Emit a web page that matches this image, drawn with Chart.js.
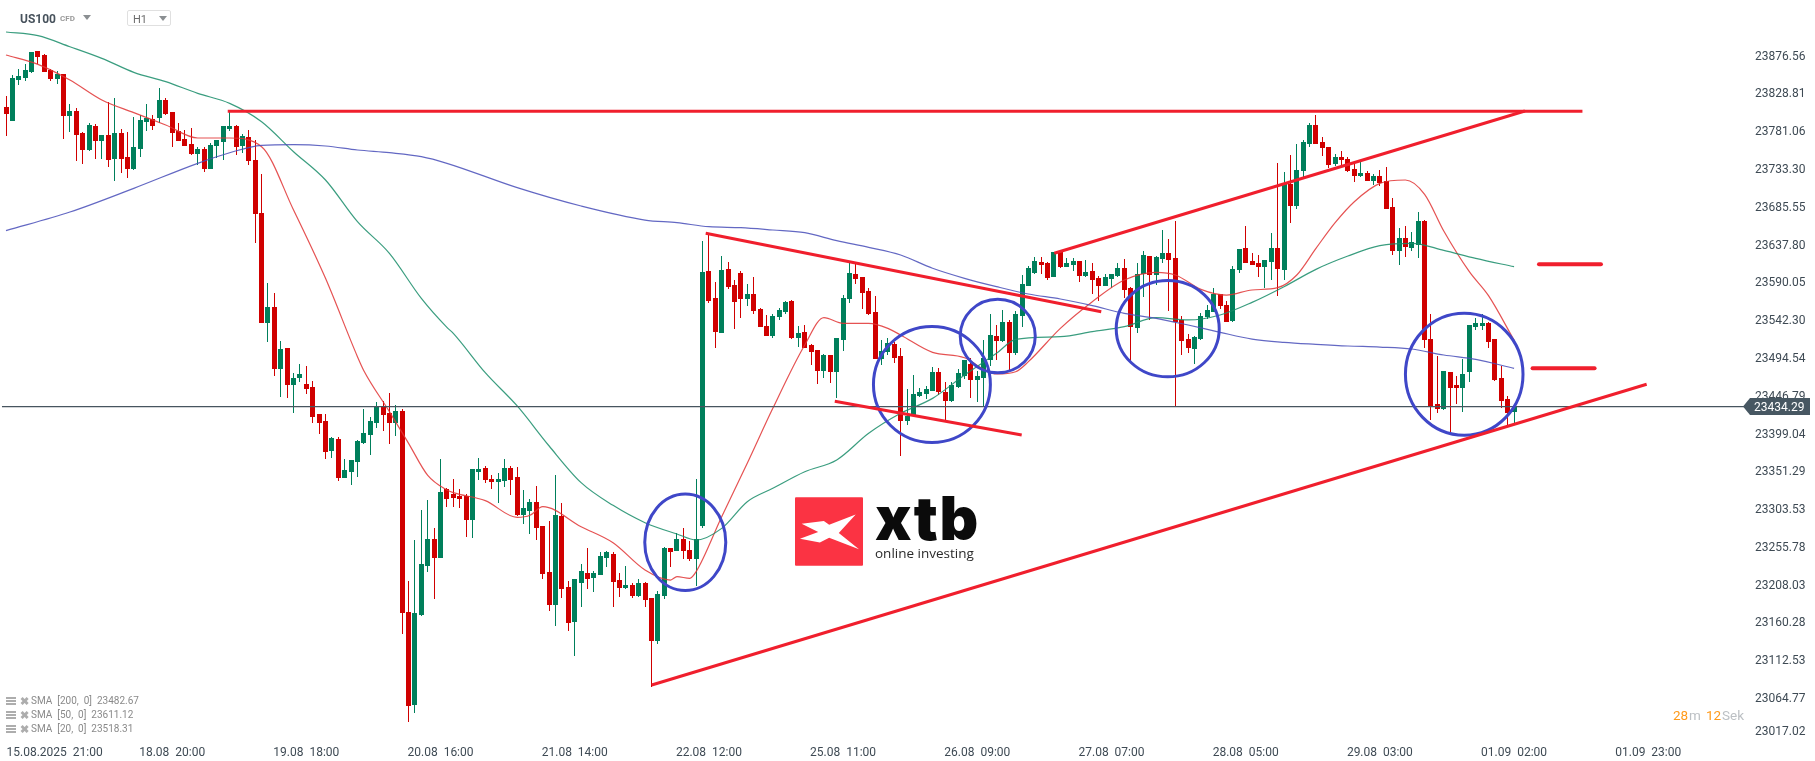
<!DOCTYPE html>
<html>
<head>
<meta charset="utf-8">
<title>US100 H1</title>
<script src="https://cdn.jsdelivr.net/npm/chart.js@4/dist/chart.umd.min.js"></script>
<style>
    html, body { margin: 0; padding: 0; background: #fff; }
    #wrap { position: relative; width: 1815px; height: 761px; overflow: hidden; font-family: Roboto, sans-serif; }
    #wrap div, #wrap span { position: absolute; white-space: pre; line-height: 1; }
    canvas { position: absolute; left: 0; top: 0; }
    .tri { width: 0; height: 0; border-left: 4px solid transparent; border-right: 4px solid transparent; border-top: 5px solid #8b8f92; }
    .sma { left: 31px; font-size: 10px; color: #8a8a8a; }
    .ico { left: 6px; width: 10px; height: 8px; background: repeating-linear-gradient(#adadad 0 2px, #fff 2px 3px); }
    .cross { left: 20px; font-size: 11px; font-weight: 700; color: #adadad; }
</style>
</head>
<body>
<div id="wrap">
    <canvas id="chart" width="1815" height="761"></canvas>

    <div style="left:20px;top:13px;font-size:12px;font-weight:700;color:#47525c">US100</div>
    <div style="left:60px;top:15px;font-size:8px;font-weight:700;color:#9a9a9a">CFD</div>
    <div class="tri" style="left:83px;top:15px"></div>
    <div style="left:127px;top:10px;width:42px;height:14px;border:1px solid #e0e0e0;border-radius:2px"></div>
    <div style="left:133px;top:14px;font-size:11px;color:#6d6d6d">H1</div>
    <div class="tri" style="left:159px;top:16px"></div>

    <div class="ico" style="top:697px"></div><div class="cross" style="top:696px">✖</div>
    <div class="sma" style="top:696px">SMA  [200,  0]  23482.67</div>
    <div class="ico" style="top:711px"></div><div class="cross" style="top:710px">✖</div>
    <div class="sma" style="top:710px">SMA  [50,  0]  23611.12</div>
    <div class="ico" style="top:725px"></div><div class="cross" style="top:724px">✖</div>
    <div class="sma" style="top:724px">SMA  [20,  0]  23518.31</div>

    <svg style="position:absolute;left:795px;top:497px" width="68" height="69" viewBox="75 50 205 207">
        <rect x="75" y="50" width="205" height="207" rx="3" fill="#fb3343"/>
        <polygon fill="#fff" points="95,130 162,122 178,133 258,102 207,158 268,207 178,172 150,187 90,175 145,155"/>
    </svg>
    <div style="left:875px;top:488px;font-family:Inter,sans-serif;font-size:60px;font-weight:900;color:#0b0b0b;letter-spacing:1.5px">xtb</div>
    <div style="left:875px;top:547px;font-family:'Open Sans',sans-serif;font-size:13.5px;color:#2a2a2a">online investing</div>

    <span style="left:1673px;top:709px;font-size:13.5px;color:#ff9a1a">28</span>
    <span style="left:1689px;top:709px;font-size:13.5px;color:#bcc0c4">m</span>
    <span style="left:1706px;top:709px;font-size:13.5px;color:#ff9a1a">12</span>
    <span style="left:1722px;top:709px;font-size:13.5px;color:#bcc0c4">Sek</span>

    <div style="left:1743px;top:398px;width:67px;height:17px;background:#475762;clip-path:polygon(0 50%,7px 0,100% 0,100% 100%,7px 100%)"></div>
    <div style="left:1754px;top:401px;font-size:12px;color:#fff">23434.29</div>
</div>

<script>
// Candles, one per hour
const candleOpen = [
    23813,23795,23847,23850,23857,23884,23879,23860,23848,23855,
    23802,23808,23780,23759,23789,23770,23778,23747,23780,23750,
    23735,23760,23794,23798,23799,23822,23807,23783,23772,23766,
    23754,23760,23735,23764,23769,23785,23789,23764,23775,23746,
    23679,23540,23560,23482,23508,23462,23470,23463,23459,23425,
    23416,23378,23393,23344,23352,23364,23388,23398,23414,23435,
    23426,23414,23429,23175,23057,23171,23233,23267,23243,23330,
    23324,23321,23321,23291,23352,23357,23343,23339,23340,23357,
    23345,23297,23302,23314,23283,23225,23184,23296,23206,23162,
    23211,23224,23218,23221,23243,23248,23215,23205,23209,23195,
    23211,23192,23138,23195,23256,23252,23267,23253,23242,23283,
    23606,23572,23527,23608,23588,23603,23570,23577,23558,23536,
    23523,23548,23554,23568,23521,23529,23512,23506,23479,23500,
    23478,23518,23570,23602,23598,23580,23554,23494,23503,23513,
    23498,23416,23424,23448,23450,23454,23478,23453,23441,23459,
    23473,23488,23468,23470,23493,23523,23517,23541,23502,23549,
    23587,23603,23617,23616,23598,23630,23611,23613,23618,23599,
    23606,23597,23587,23596,23599,23609,23584,23534,23602,23625,
    23601,23621,23628,23622,23544,23520,23507,23520,23548,23554,
    23577,23563,23542,23607,23635,23618,23616,23611,23617,23635,
    23607,23716,23688,23732,23766,23790,23769,23762,23741,23750,
    23747,23735,23726,23730,23719,23726,23719,23687,23631,23647,
    23635,23639,23669,23520,23438,23431,23478,23462,23458,23478,
    23535,23536,23540,23520,23470,23444,23427
];
const candleClose = [
    23804,23850,23852,23860,23882,23876,23857,23848,23855,23802,
    23808,23778,23759,23790,23770,23778,23746,23780,23747,23735,
    23762,23796,23799,23789,23822,23804,23780,23770,23764,23754,
    23760,23735,23765,23771,23789,23789,23762,23776,23745,23678,
    23540,23560,23482,23507,23461,23471,23475,23457,23421,23414,
    23377,23395,23344,23354,23367,23391,23401,23416,23435,23424,
    23414,23429,23173,23056,23173,23235,23267,23243,23326,23318,
    23319,23318,23291,23355,23355,23342,23339,23343,23357,23342,
    23297,23306,23314,23281,23223,23184,23297,23204,23161,23216,
    23226,23216,23224,23245,23251,23213,23205,23209,23195,23211,
    23190,23138,23197,23256,23251,23267,23252,23242,23267,23604,
    23568,23529,23607,23585,23566,23570,23577,23555,23535,23523,
    23549,23556,23566,23521,23527,23508,23503,23479,23500,23478,
    23521,23572,23603,23596,23578,23551,23494,23505,23515,23496,
    23416,23422,23450,23453,23457,23478,23453,23441,23462,23477,
    23493,23468,23473,23496,23525,23517,23541,23502,23551,23589,
    23609,23618,23613,23597,23630,23611,23616,23618,23599,23604,
    23594,23587,23598,23602,23609,23582,23535,23602,23626,23601,
    23623,23628,23620,23541,23517,23508,23522,23549,23556,23577,
    23561,23541,23608,23633,23616,23613,23611,23620,23635,23608,
    23716,23688,23733,23769,23790,23766,23761,23740,23750,23746,
    23732,23726,23730,23719,23726,23717,23684,23631,23647,23636,
    23642,23669,23518,23435,23431,23479,23458,23458,23475,23537,
    23540,23540,23516,23468,23441,23426,23434.29
];
const candleHigh = [
    23827,23853,23861,23867,23882,23884,23880,23861,23859,23855,
    23817,23812,23781,23793,23791,23778,23819,23824,23785,23781,
    23800,23803,23817,23803,23837,23824,23807,23793,23784,23786,
    23762,23762,23767,23771,23789,23807,23790,23779,23784,23771,
    23728,23590,23578,23517,23508,23477,23488,23486,23467,23425,
    23425,23396,23396,23368,23367,23392,23431,23421,23440,23441,
    23451,23436,23431,23214,23266,23304,23316,23281,23368,23331,
    23343,23330,23324,23355,23369,23359,23348,23350,23368,23359,
    23358,23329,23318,23334,23283,23290,23348,23312,23214,23216,
    23235,23256,23226,23251,23252,23251,23224,23233,23211,23216,
    23213,23192,23201,23257,23256,23274,23281,23264,23343,23644,
    23652,23592,23625,23617,23594,23606,23589,23598,23559,23550,
    23551,23559,23568,23569,23536,23537,23513,23506,23501,23500,
    23521,23575,23616,23615,23598,23584,23574,23518,23521,23516,
    23508,23457,23474,23458,23460,23484,23483,23465,23465,23482,
    23493,23496,23479,23518,23551,23537,23556,23544,23555,23601,
    23612,23623,23623,23617,23630,23630,23622,23622,23618,23620,
    23616,23599,23602,23602,23616,23621,23585,23616,23631,23625,
    23625,23657,23646,23669,23549,23526,23523,23553,23563,23584,
    23577,23568,23612,23633,23663,23628,23626,23620,23654,23742,
    23731,23752,23766,23771,23793,23803,23775,23762,23754,23757,
    23750,23745,23743,23732,23728,23733,23737,23698,23660,23663,
    23655,23680,23670,23551,23498,23479,23478,23473,23494,23537,
    23546,23551,23541,23520,23486,23448,23436
];
const candleLow = [
    23776,23795,23841,23846,23856,23867,23857,23846,23842,23772,
    23781,23745,23741,23757,23747,23747,23737,23719,23730,23723,
    23733,23750,23783,23784,23793,23803,23762,23770,23764,23752,
    23740,23731,23735,23748,23746,23783,23752,23755,23740,23641,
    23540,23516,23473,23447,23445,23426,23465,23450,23414,23400,
    23368,23369,23340,23344,23335,23345,23387,23373,23407,23403,
    23387,23397,23147,23036,23047,23170,23225,23191,23243,23307,
    23307,23306,23269,23268,23342,23338,23330,23312,23333,23323,
    23296,23286,23273,23266,23216,23176,23157,23192,23151,23119,
    23181,23204,23200,23221,23232,23181,23194,23204,23192,23194,
    23181,23080,23134,23191,23232,23252,23242,23239,23208,23281,
    23565,23508,23527,23583,23532,23546,23561,23551,23535,23523,
    23521,23544,23551,23520,23510,23508,23487,23463,23470,23464,
    23445,23505,23565,23589,23558,23550,23494,23487,23500,23489,
    23372,23411,23424,23446,23444,23454,23449,23417,23440,23458,
    23469,23445,23440,23434,23486,23493,23516,23481,23500,23535,
    23587,23602,23602,23594,23598,23609,23611,23606,23592,23598,
    23577,23568,23587,23584,23598,23572,23491,23527,23573,23544,
    23588,23616,23555,23435,23500,23502,23488,23518,23545,23554,
    23558,23541,23541,23603,23616,23613,23598,23584,23594,23574,
    23594,23666,23684,23724,23762,23766,23751,23736,23738,23740,
    23731,23718,23724,23719,23714,23713,23684,23626,23613,23623,
    23631,23622,23508,23417,23426,23430,23402,23438,23427,23465,
    23531,23531,23508,23467,23432,23410,23414
];

// Moving averages, read at the candle numbers below
const sma200Index = [0,10,20,30,35,40,45,50,55,60,65,69,80,90,100,105,110,115,120,125,130,135,140,145,150,155,160,165,170,175,180,185,190,195,200,205,210,215,220,225,230,236];
const sma200Values = [23656.7,23680.2,23710.2,23741.8,23755.2,23764.5,23765.4,23763.7,23758.6,23755.2,23750.2,23741.8,23711,23687.8,23670.1,23666.8,23661.7,23660.5,23657.5,23654.1,23644,23635.6,23625.9,23609.1,23596.4,23585.9,23576.6,23570.3,23561.9,23552.2,23545.9,23537.4,23528.2,23519.7,23515.5,23513,23510.9,23509.6,23507.1,23499.5,23494,23482.67];
const sma50Index = [0,5,10,15,20,25,30,35,40,45,50,55,60,65,69,70,75,80,85,90,95,100,105,108,112,116,120,125,130,135,140,145,150,155,158,165,170,175,180,185,190,195,200,205,210,215,220,225,230,236];
const sma50Values = [23907.8,23903.1,23889.2,23874.5,23856.8,23845,23830.2,23817.6,23794.4,23756.5,23720.7,23668,23628,23571.1,23534.5,23526.9,23477.2,23435.1,23384.5,23338.2,23309.5,23287.6,23273.3,23265.7,23280.4,23314.1,23331,23352,23366.8,23400.5,23425.8,23444.7,23474.2,23501.6,23519.3,23522.7,23529,23535.3,23546.7,23543.8,23550.1,23566.1,23585.9,23607.8,23624.6,23637.7,23640.7,23631.8,23621.7,23611.12];
const sma20Index = [0,5,10,15,20,25,30,35,40,45,50,55,56,60,63,66,69,70,75,80,82,84,90,95,100,104,105,107,108,112,116,120,125,128,131,135,138,140,145,150,153,155,158,160,165,170,175,180,183,187,191,195,199,202,205,208,211,215,219,222,225,229,232,236];
const sma20Values = [23878.7,23866.9,23847.1,23821.8,23805.8,23790.2,23773.8,23773.8,23762.8,23682.8,23596.4,23497.4,23479.7,23427.9,23387.9,23347.4,23328.9,23325.5,23315.4,23294.3,23296.9,23307.8,23282.5,23262.3,23227.8,23215.1,23219.4,23217.3,23225.7,23295.2,23362.6,23432.1,23512.2,23546.7,23539.5,23539.5,23533.2,23524.8,23502.9,23496.1,23481.4,23475.5,23478.4,23491.1,23533.2,23566.9,23594.3,23604,23600.6,23582.5,23575.3,23581.7,23584.6,23600.6,23634.3,23666.8,23693.3,23716.5,23720.7,23702.6,23656.2,23604.8,23574.5,23518.31];

// Hand drawn trend lines, each as candle number and price at both ends
const trendIndex = [[34.7,246.7],[164.05,237.7],[109.5,171.4],[129.7,158.95],[101.05,256.75]];
const trendPrice = [[23807.5,23807.5],[23628.1,23807.9],[23653.3,23554.2],[23441,23398.4],[23082.4,23462.5]];
const levelIndex = [[239.9,249.6],[238.9,248.6]];
const levelPrice = [23614.2,23482.7];

// Blue circles: centre and radius in candles and in points
const circleIndex = [106.3,144.9,155.2,181.8,228.2];
const circlePrice = [23262.8,23462.2,23523.5,23532.8,23475.2];
const circleRadiusIndex = [6.34,9.15,5.87,8.06,9.2];
const circleRadiusPrice = [60.9,73.3,46.5,60.9,77.1];

const lastPrice = 23434.29;

// Axis labels. The lowest price label sits a bit above its real level, like in the platform
const yTickValues = [23876.56,23828.81,23781.06,23733.30,23685.55,23637.80,23590.05,23542.30,23494.54,23446.79,23399.04,23351.29,23303.53,23255.78,23208.03,23160.28,23112.53,23064.77,23023.5];
const yTickLabels = ['23876.56','23828.81','23781.06','23733.30','23685.55','23637.80','23590.05','23542.30','23494.54','23446.79','23399.04','23351.29','23303.53','23255.78','23208.03','23160.28','23112.53','23064.77','23017.02'];
const xTickValues = [7.6,26,47,68,89,110,131,152,173,194,215,236,257];
const xTickLabels = ['15.08.2025  21:00','18.08  20:00','19.08  18:00','20.08  16:00','21.08  14:00','22.08  12:00','25.08  11:00','26.08  09:00','27.08  07:00','28.08  05:00','29.08  03:00','01.09  02:00','01.09  23:00'];

const UP = '#007f5b';
const DOWN = '#d00000';
const candleColor = (ctx) => candleClose[ctx.dataIndex] >= candleOpen[ctx.dataIndex] ? UP : DOWN;

function smaDataset(label, index, values, color, order) {
    return {
        type: 'line',
        label: label,
        data: index.map((x, i) => ({ x: x, y: values[i] })),
        borderColor: color,
        borderWidth: 1.2,
        pointRadius: 0,
        cubicInterpolationMode: 'monotone',
        order: order
    };
}

function straightDataset(label, xs, ys, width, cap, color, order) {
    return {
        type: 'line',
        label: label,
        data: xs.map((x, i) => ({ x: x, y: ys[i] })),
        borderColor: color,
        borderWidth: width,
        borderCapStyle: cap,
        pointRadius: 0,
        order: order
    };
}

const datasets = [
    {
        label: 'wick',
        data: candleHigh.map((h, i) => ({ x: i, y: [candleLow[i], h] })),
        backgroundColor: candleColor,
        barThickness: 1,
        grouped: false,
        inflateAmount: 0,
        order: 10
    },
    {
        label: 'body',
        data: candleOpen.map((o, i) => ({ x: i, y: [o, candleClose[i]] })),
        backgroundColor: candleColor,
        barThickness: 5,
        grouped: false,
        inflateAmount: 0,
        order: 9
    },
    smaDataset('SMA 20', sma20Index, sma20Values, 'rgba(224,52,52,0.85)', 8),
    smaDataset('SMA 50', sma50Index, sma50Values, 'rgba(24,140,104,0.85)', 7),
    smaDataset('SMA 200', sma200Index, sma200Values, 'rgba(72,78,184,0.85)', 6),
    straightDataset('last price', [-0.63, 272.14], [lastPrice, lastPrice], 1.3, 'butt', '#47555f', 5)
];
trendIndex.forEach((xs, i) => {
    datasets.push(straightDataset('trend ' + i, xs, trendPrice[i], 3, 'butt', '#f01f2d', 2));
});
levelIndex.forEach((xs, i) => {
    datasets.push(straightDataset('level ' + i, xs, [levelPrice[i], levelPrice[i]], 4, 'round', '#f01f2d', 2));
});

// Puts the candles on whole pixels so that they stay sharp, as in the platform
const snapCandles = {
    id: 'snapCandles',
    afterDatasetsUpdate(chart) {
        [0, 1].forEach((d) => {
            chart.getDatasetMeta(d).data.forEach((el) => {
                el.x = Math.floor(el.x) + 0.5;
                el.y = Math.round(el.y);
                el.base = Math.round(el.base);
            });
        });
    }
};

// Circles go on top of the candles, but under the red lines
const circles = {
    id: 'circles',
    afterDatasetDraw(chart, args) {
        if (chart.data.datasets[args.index].label !== 'last price') {
            return;
        }
        const x = chart.scales.x;
        const y = chart.scales.y;
        const ctx = chart.ctx;
        ctx.save();
        ctx.strokeStyle = '#3f47c8';
        ctx.lineWidth = 3;
        circleIndex.forEach((c, i) => {
            const cx = x.getPixelForValue(c);
            const cy = y.getPixelForValue(circlePrice[i]);
            const rx = x.getPixelForValue(c + circleRadiusIndex[i]) - cx;
            const ry = cy - y.getPixelForValue(circlePrice[i] + circleRadiusPrice[i]);
            ctx.beginPath();
            ctx.ellipse(cx, cy, rx, ry, 0, 0, Math.PI * 2);
            ctx.stroke();
        });
        ctx.restore();
    }
};

new Chart(document.getElementById('chart').getContext('2d'), {
    type: 'bar',
    data: { datasets: datasets },
    options: {
        responsive: false,
        animation: false,
        layout: { padding: 0 },
        plugins: { legend: { display: false }, tooltip: { enabled: false } },
        scales: {
            x: {
                type: 'linear',
                offset: false,
                min: -0.939,
                max: 272.14,
                grid: { display: false },
                border: { display: false },
                afterBuildTicks: (axis) => { axis.ticks = xTickValues.map((v) => ({ value: v })); },
                // the layout would otherwise keep room for half a label on each side
                afterFit: (axis) => { axis.height = 24; axis.paddingLeft = 0; axis.paddingRight = 0; },
                ticks: {
                    autoSkip: false,
                    maxRotation: 0,
                    padding: 1,
                    color: '#3e4a54',
                    font: { family: 'Roboto', size: 12 },
                    callback: (value, index) => xTickLabels[index]
                }
            },
            y: {
                type: 'linear',
                position: 'right',
                min: 23016.71,
                max: 23948.22,
                grid: { display: false, drawTicks: false },
                border: { display: false },
                afterBuildTicks: (axis) => { axis.ticks = yTickValues.map((v) => ({ value: v })); },
                afterFit: (axis) => { axis.width = 70; axis.paddingTop = 0; axis.paddingBottom = 0; },
                ticks: {
                    autoSkip: false,
                    padding: 10,
                    color: '#3e4a54',
                    font: { family: 'Roboto', size: 12 },
                    callback: (value, index) => yTickLabels[index]
                }
            }
        }
    },
    plugins: [snapCandles, circles]
});
</script>
</body>
</html>
